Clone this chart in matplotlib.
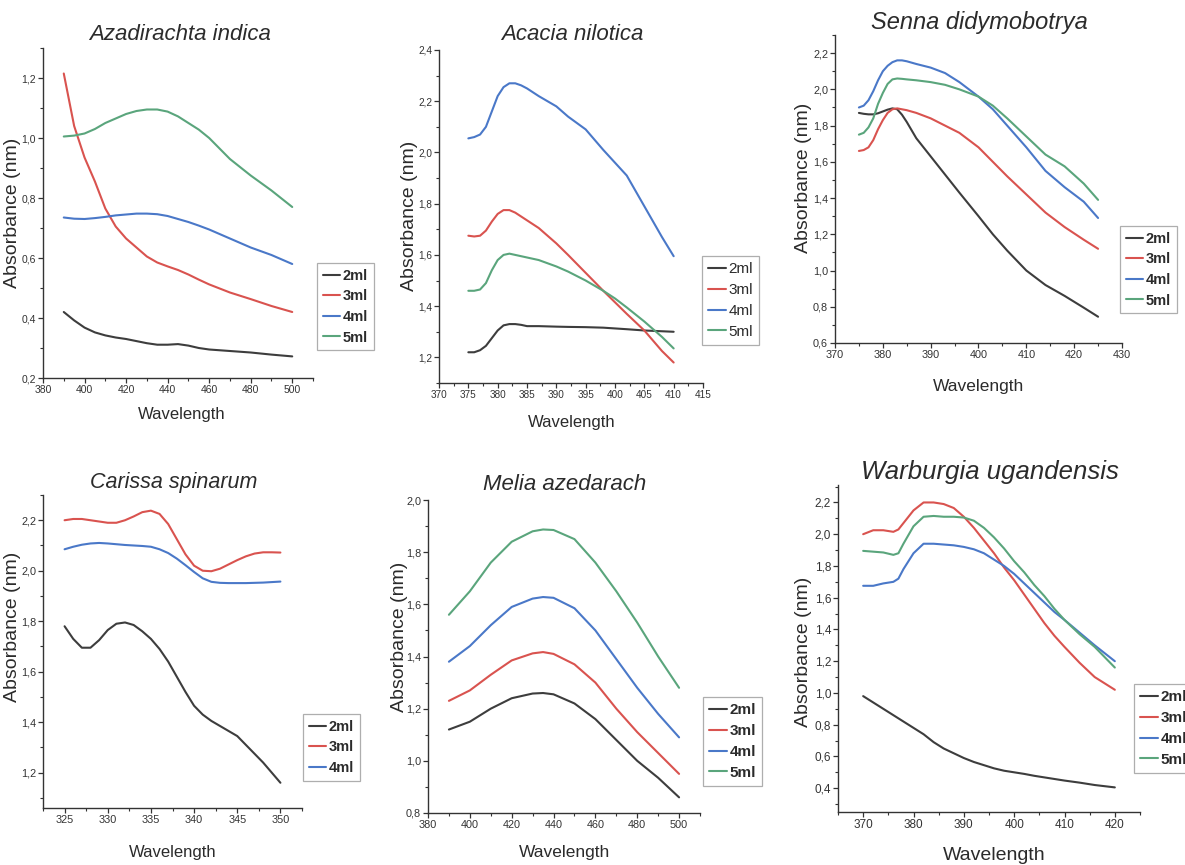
import numpy as np
import matplotlib
matplotlib.use("Agg")
import matplotlib.pyplot as plt
from matplotlib.ticker import MultipleLocator, FuncFormatter

# ---------------- data ----------------
SERIES = ["2ml", "3ml", "4ml", "5ml"]
COLORS = {"2ml": "#3d3d3d", "3ml": "#d9534f", "4ml": "#4a78c8", "5ml": "#5aa57c"}

AZ_X = [390, 395, 400, 405, 410, 415, 420, 425, 430, 435, 440, 445, 450, 455, 460, 470, 480, 490, 500]
AZ_2 = [0.42, 0.392, 0.368, 0.352, 0.342, 0.335, 0.33, 0.323, 0.316, 0.311, 0.311, 0.313, 0.308, 0.30, 0.295, 0.29, 0.285, 0.278, 0.272]
AZ_3 = [1.215, 1.04, 0.935, 0.855, 0.765, 0.705, 0.665, 0.635, 0.605, 0.585, 0.572, 0.56, 0.545, 0.528, 0.512, 0.485, 0.463, 0.44, 0.42]
AZ_4 = [0.735, 0.731, 0.73, 0.733, 0.737, 0.742, 0.745, 0.748, 0.748, 0.746, 0.74, 0.73, 0.72, 0.708, 0.695, 0.665, 0.635, 0.61, 0.58]
AZ_5 = [1.005, 1.008, 1.015, 1.03, 1.05, 1.065, 1.08, 1.09, 1.095, 1.095, 1.088, 1.072, 1.05, 1.028, 1.0, 0.93, 0.875, 0.825, 0.77]

AC_X = [375, 376, 377, 378, 379, 380, 381, 382, 383, 384, 385, 387, 390, 392, 395, 398, 400, 402, 405, 408, 410]
AC_2 = [1.22, 1.22, 1.228, 1.245, 1.275, 1.305, 1.325, 1.33, 1.33, 1.327, 1.322, 1.322, 1.32, 1.319, 1.318, 1.316, 1.313, 1.31, 1.305, 1.302, 1.30]
AC_3 = [1.675, 1.672, 1.675, 1.695, 1.73, 1.76, 1.775, 1.775, 1.765, 1.75, 1.735, 1.705, 1.645, 1.60, 1.53, 1.46, 1.415, 1.37, 1.305, 1.225, 1.18]
AC_4 = [2.055, 2.06, 2.07, 2.10, 2.16, 2.22, 2.255, 2.27, 2.27, 2.262, 2.25, 2.22, 2.18, 2.14, 2.09, 2.01, 1.96, 1.91, 1.79, 1.67, 1.595]
AC_5 = [1.46, 1.46, 1.465, 1.49, 1.54, 1.58, 1.60, 1.605, 1.60, 1.595, 1.59, 1.58, 1.555, 1.535, 1.50, 1.46, 1.43, 1.395, 1.34, 1.28, 1.235]

SE_X = [375, 376, 377, 378, 379, 380, 381, 382, 383, 384, 385, 387, 390, 393, 396, 400, 403, 406, 410, 414, 418, 422, 425]
SE_2 = [1.87, 1.865, 1.862, 1.862, 1.868, 1.878, 1.888, 1.895, 1.89, 1.86, 1.82, 1.73, 1.63, 1.53, 1.43, 1.30, 1.20, 1.11, 1.00, 0.92, 0.86, 0.795, 0.745]
SE_3 = [1.66, 1.665, 1.68, 1.72, 1.78, 1.83, 1.87, 1.89, 1.895, 1.89, 1.885, 1.87, 1.84, 1.80, 1.76, 1.68, 1.60, 1.52, 1.42, 1.32, 1.24, 1.17, 1.12]
SE_4 = [1.90, 1.91, 1.94, 1.99, 2.05, 2.10, 2.13, 2.15, 2.16, 2.16, 2.155, 2.14, 2.12, 2.09, 2.04, 1.96, 1.89, 1.80, 1.68, 1.55, 1.46, 1.38, 1.29]
SE_5 = [1.75, 1.76, 1.79, 1.84, 1.92, 1.98, 2.03, 2.055, 2.06, 2.058, 2.055, 2.05, 2.04, 2.025, 2.00, 1.96, 1.91, 1.84, 1.74, 1.64, 1.575, 1.48, 1.39]

CA_X = list(range(325, 351))
CA_2 = [1.78, 1.73, 1.695, 1.695, 1.725, 1.765, 1.79, 1.795, 1.785, 1.76, 1.73, 1.69, 1.64, 1.58, 1.52, 1.465, 1.43, 1.405, 1.385, 1.365, 1.345, 1.31, 1.275, 1.24, 1.20, 1.16]
CA_3 = [2.20, 2.205, 2.205, 2.20, 2.195, 2.19, 2.19, 2.20, 2.215, 2.232, 2.238, 2.225, 2.185, 2.125, 2.065, 2.02, 2.00, 1.998, 2.008, 2.025, 2.042, 2.057, 2.068, 2.073, 2.073, 2.072]
CA_4 = [2.085, 2.095, 2.103, 2.108, 2.11, 2.108, 2.105, 2.102, 2.10, 2.098, 2.095, 2.085, 2.07, 2.048, 2.022, 1.995, 1.97, 1.956, 1.952, 1.951, 1.951, 1.951, 1.952, 1.953, 1.955, 1.957]

ME_X = [390, 400, 410, 420, 430, 435, 440, 450, 460, 470, 480, 490, 500]
ME_2 = [1.12, 1.15, 1.20, 1.24, 1.258, 1.26, 1.255, 1.22, 1.16, 1.08, 1.00, 0.935, 0.86]
ME_3 = [1.23, 1.27, 1.33, 1.385, 1.412, 1.417, 1.41, 1.37, 1.30, 1.20, 1.11, 1.03, 0.95]
ME_4 = [1.38, 1.44, 1.52, 1.59, 1.622, 1.628, 1.625, 1.585, 1.50, 1.39, 1.28, 1.18, 1.09]
ME_5 = [1.56, 1.65, 1.76, 1.84, 1.88, 1.887, 1.885, 1.85, 1.76, 1.65, 1.53, 1.40, 1.28]

WA_X = [370, 372, 374, 376, 377, 378, 380, 382, 384, 386, 388, 390, 392, 394, 396, 398, 400, 402, 404, 406, 408, 410, 413, 416, 420]
WA_2 = [0.98, 0.94, 0.90, 0.86, 0.84, 0.82, 0.78, 0.74, 0.69, 0.65, 0.62, 0.59, 0.565, 0.545, 0.525, 0.51, 0.50, 0.49, 0.478, 0.468, 0.458, 0.448, 0.435, 0.42, 0.405]
WA_3 = [2.00, 2.025, 2.025, 2.015, 2.03, 2.07, 2.15, 2.20, 2.20, 2.19, 2.165, 2.11, 2.04, 1.96, 1.88, 1.79, 1.71, 1.62, 1.53, 1.44, 1.36, 1.29, 1.19, 1.10, 1.02]
WA_4 = [1.675, 1.675, 1.69, 1.70, 1.72, 1.78, 1.88, 1.94, 1.94, 1.935, 1.93, 1.92, 1.905, 1.88, 1.84, 1.80, 1.75, 1.69, 1.63, 1.57, 1.51, 1.46, 1.38, 1.30, 1.20]
WA_5 = [1.895, 1.89, 1.885, 1.87, 1.88, 1.94, 2.05, 2.11, 2.115, 2.11, 2.11, 2.105, 2.085, 2.04, 1.98, 1.91, 1.83, 1.76, 1.68, 1.61, 1.53, 1.46, 1.37, 1.29, 1.16]

TITLES = ["Azadirachta indica", "Acacia nilotica", "Senna didymobotrya",
          "Carissa spinarum", "Melia azedarach", "Warburgia ugandensis"]

# ---------------- layout ----------------
W, H = 1185, 865
fig = plt.figure(figsize=(W / 100, H / 100), dpi=100)
fig.patch.set_facecolor("white")

FONT = ["Liberation Sans", "DejaVu Sans"]
TXT = "#2b2b2b"


def px_rect(l, r, t, b):
    return [l / W, 1 - b / H, (r - l) / W, (b - t) / H]


def comma(v, p):
    return f"{v:.1f}".replace(".", ",")


panels = [
    dict(rect=(43, 313, 48, 378), xlim=(380, 510), ylim=(0.2, 1.3), xmaj=20, ymaj=0.2,
         x=AZ_X, ys=[AZ_2, AZ_3, AZ_4, AZ_5], title_xy=(180, 35), tsize=16,
         xl_xy=(182, 414), yl_xy=(13, 213), leg=(317, 263), bold=True, fs=7.5, xlsize=12, lsize=10.5),
    dict(rect=(439, 703, 50, 383), xlim=(370, 415), ylim=(1.1, 2.4), xmaj=5, ymaj=0.2,
         x=AC_X, ys=[AC_2, AC_3, AC_4, AC_5], title_xy=(572, 35), tsize=16,
         xl_xy=(572, 423), yl_xy=(409, 216), leg=(702, 256), bold=False, fs=7.2, xlsize=12, lsize=11),
    dict(rect=(835, 1122, 35, 343), xlim=(370, 430), ylim=(0.6, 2.3), xmaj=10, ymaj=0.2,
         x=SE_X, ys=[SE_2, SE_3, SE_4, SE_5], title_xy=(979, 22), tsize=17,
         xl_xy=(979, 387), yl_xy=(804, 178), leg=(1120, 226), bold=True, fs=7.8, xlsize=12.5, lsize=10.5),
    dict(rect=(43, 302, 495, 808), xlim=(322.5, 352.5), ylim=(1.06, 2.3), xmaj=5, ymaj=0.2,
         x=CA_X, ys=[CA_2, CA_3, CA_4], title_xy=(174, 482), tsize=15.5,
         xl_xy=(173, 853), yl_xy=(13, 627), leg=(303, 714), bold=True, fs=7.8, xlsize=12, lsize=10.5),
    dict(rect=(428, 700, 500, 813), xlim=(380, 510), ylim=(0.8, 2.0), xmaj=20, ymaj=0.2,
         x=ME_X, ys=[ME_2, ME_3, ME_4, ME_5], title_xy=(565, 485), tsize=16,
         xl_xy=(565, 852), yl_xy=(399, 637), leg=(703, 697), bold=True, fs=7.8, xlsize=12.5, lsize=11),
    dict(rect=(838, 1140, 485, 812), xlim=(365, 425), ylim=(0.25, 2.31), xmaj=10, ymaj=0.2,
         x=WA_X, ys=[WA_2, WA_3, WA_4, WA_5], title_xy=(990, 472), tsize=18.5,
         xl_xy=(994, 855), yl_xy=(804, 652), leg=(1134, 684), bold=True, fs=8.5, xlsize=14, lsize=11),
]

for i, p in enumerate(panels):
    l, r, t, b = p["rect"]
    ax = fig.add_axes(px_rect(l, r, t, b))
    for k, y in enumerate(p["ys"]):
        name = SERIES[k]
        ax.plot(p["x"], y, color=COLORS[name], lw=1.5, label=name, solid_capstyle="round")
    ax.set_xlim(*p["xlim"])
    ax.set_ylim(*p["ylim"])
    ax.xaxis.set_major_locator(MultipleLocator(p["xmaj"]))
    ax.xaxis.set_minor_locator(MultipleLocator(p["xmaj"] / 2))
    ax.yaxis.set_major_locator(MultipleLocator(p["ymaj"]))
    ax.yaxis.set_minor_locator(MultipleLocator(p["ymaj"] / 2))
    ax.yaxis.set_major_formatter(FuncFormatter(comma))
    for s in ("top", "right"):
        ax.spines[s].set_visible(False)
    for s in ("left", "bottom"):
        ax.spines[s].set_color("#333333")
        ax.spines[s].set_linewidth(1.0)
    ax.tick_params(which="major", direction="out", length=3.5, width=0.9, color="#333333",
                   labelsize=p["fs"], labelcolor="#333333", pad=1.5)
    ax.tick_params(which="minor", direction="out", length=2, width=0.8, color="#333333")
    for lab in ax.get_xticklabels() + ax.get_yticklabels():
        lab.set_fontfamily(FONT)
    ax.set_facecolor("none")

    tx, ty = p["title_xy"]
    fig.text(tx / W, 1 - ty / H, TITLES[i], ha="center", va="center",
             fontsize=p["tsize"], style="italic", family=FONT, color=TXT)
    xx, xy = p["xl_xy"]
    fig.text(xx / W, 1 - xy / H, "Wavelength", ha="center", va="center",
             fontsize=p["xlsize"], family=FONT, color=TXT)
    yx, yy = p["yl_xy"]
    fig.text(yx / W, 1 - yy / H, "Absorbance (nm)", ha="center", va="center",
             rotation=90, fontsize=14, family=FONT, color=TXT)

    lx, ly = p["leg"]
    leg = ax.legend(loc="upper left", bbox_to_anchor=(lx / W, 1 - ly / H),
                    bbox_transform=fig.transFigure, frameon=True, fancybox=False,
                    handlelength=1.2, handletextpad=0.15, borderpad=0.4,
                    labelspacing=0.45, borderaxespad=0.0,
                    prop=dict(family=FONT, size=p["lsize"],
                              weight="bold" if p["bold"] else "normal"))
    leg.get_frame().set_edgecolor("#9a9a9a")
    leg.get_frame().set_linewidth(0.9)
    for txt in leg.get_texts():
        txt.set_color(TXT)

fig.savefig("out.png", dpi=100, facecolor="white")
